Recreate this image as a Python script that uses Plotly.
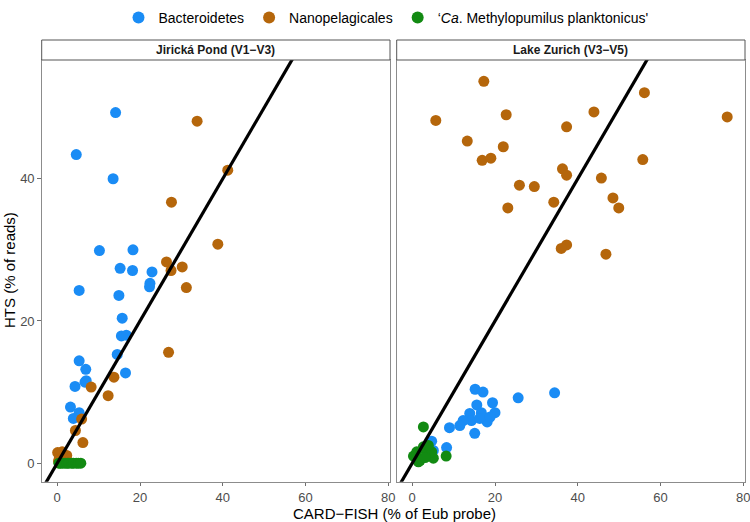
import plotly.graph_objects as go

# ---------------- data ----------------
# Jiricka Pond (V1-V3)
jp_bact_x = [14.1, 4.6, 13.5, 10.2, 18.3, 15.2, 18.2, 22.9, 22.4, 22.3, 5.3, 14.9, 15.7, 15.5, 16.7, 14.5, 16.5, 5.3, 6.9, 7.0, 4.3, 3.2, 5.3, 3.9, 6.7]
jp_bact_y = [49.3, 43.4, 40.0, 29.9, 30.0, 27.4, 27.1, 26.9, 25.3, 24.8, 24.3, 23.6, 20.4, 17.9, 18.0, 15.3, 12.7, 14.4, 13.2, 11.6, 10.8, 7.9, 7.1, 6.3, 11.4]
jp_nano_x = [33.8, 41.2, 27.6, 38.8, 26.4, 27.5, 30.2, 31.2, 26.9, 13.7, 8.2, 12.3, 5.9, 4.4, 6.2, 0.1, 2.3, 0.5, 1.2, 0.3]
jp_nano_y = [48.1, 41.2, 36.7, 30.8, 28.3, 27.1, 27.6, 24.7, 15.6, 12.1, 10.7, 9.5, 6.2, 4.6, 2.9, 1.5, 1.1, 0.6, 1.6, 0.3]
jp_meth_x = [0.4, 0.8, 1.3, 1.9, 2.4, 2.8, 3.5, 3.9, 4.6, 5.1, 5.7]
jp_meth_y = [0.0, 0.0, 0.0, 0.0, 0.0, 0.0, 0.0, 0.0, 0.0, 0.0, 0.0]

# Lake Zurich (V3-V5)
lz_bact_x = [34.4, 25.6, 15.2, 17.1, 15.6, 19.4, 16.7, 20.0, 18.1, 13.9, 14.3, 12.3, 11.5, 9.0, 15.1, 16.3, 18.8, 8.3, 4.7, 5.1]
lz_bact_y = [9.9, 9.2, 10.4, 10.0, 8.2, 8.5, 7.1, 7.1, 5.8, 7.0, 6.0, 6.0, 5.3, 5.0, 4.2, 6.3, 6.5, 2.2, 3.1, 1.8]
lz_nano_x = [17.3, 5.7, 22.7, 56.1, 76.1, 43.9, 37.3, 13.3, 22.0, 16.9, 19.0, 55.7, 36.3, 37.3, 45.7, 25.9, 29.5, 34.2, 48.5, 49.9, 23.1, 37.3, 36.0, 46.8]
lz_nano_y = [53.7, 48.2, 49.0, 52.1, 48.7, 49.4, 47.3, 45.3, 44.5, 42.6, 42.9, 42.7, 41.4, 40.5, 40.1, 39.1, 38.9, 36.7, 37.3, 35.9, 35.9, 30.7, 30.2, 29.4]
lz_meth_x = [2.7, 8.2, 1.1, 0.3, 1.9, 3.5, 5.1, 4.7, 2.7, 3.9, 1.5, 3.1]
lz_meth_y = [5.1, 1.0, 1.6, 1.0, 0.4, 1.8, 0.7, 1.6, 2.3, 2.5, 0.2, 0.8]

# 1:1 reference line
ref_x = [-10, 100]
ref_y = [-10, 100]

panel_titles = ["Jirická Pond (V1−V3)", "Lake Zurich (V3−V5)"]
group_names = ["Bacteroidetes", "Nanopelagicales", "‘<i>Ca</i>. Methylopumilus planktonicus'"]
colors = ["#1a8cf5", "#b5660b", "#128a12"]
x_ticks = [0, 20, 40, 60, 80]
y_ticks = [0, 20, 40]

# ---------------- figure ----------------
fig = go.Figure()

panels = [
    ([jp_bact_x, jp_nano_x, jp_meth_x], [jp_bact_y, jp_nano_y, jp_meth_y], "x", "y"),
    ([lz_bact_x, lz_nano_x, lz_meth_x], [lz_bact_y, lz_nano_y, lz_meth_y], "x2", "y2"),
]
for p, (xs, ys, xa, ya) in enumerate(panels):
    for g in range(3):
        fig.add_trace(go.Scatter(
            x=xs[g], y=ys[g], mode="markers", xaxis=xa, yaxis=ya,
            name=group_names[g], legendgroup=group_names[g], showlegend=(p == 0),
            marker=dict(color=colors[g], size=11, line=dict(width=0)),
            hoverinfo="skip"))
    fig.add_trace(go.Scatter(
        x=ref_x, y=ref_y, mode="lines", xaxis=xa, yaxis=ya, showlegend=False,
        line=dict(color="black", width=3.2), hoverinfo="skip"))

W, H = 750, 522


def px(x):
    return x / W


def py(y):
    return 1 - y / H


left_dom = [px(41.7), px(390)]
right_dom = [px(396.7), px(745)]
y_dom = [py(481.7), py(60)]
xr = [-3.75, 80.4]
yr = [-2.6, 56.7]

axis_common = dict(showgrid=False, zeroline=False, showline=True, linecolor="#8c8c8c",
                   linewidth=1, mirror=True, ticks="outside", ticklen=3.5, tickcolor="#6e6e6e",
                   tickwidth=1, tickfont=dict(size=13, color="#4d4d4d"), automargin=False,
                   ticklabeloverflow="allow")

fig.update_layout(
    template="none",
    width=W, height=H, autosize=False,
    margin=dict(l=0, r=0, t=0, b=0, pad=0),
    plot_bgcolor="white", paper_bgcolor="white",
    font=dict(family="Liberation Sans, Arial, sans-serif", color="black"),
    xaxis=dict(domain=left_dom, range=xr, tickvals=x_ticks, anchor="y", **axis_common),
    xaxis2=dict(domain=right_dom, range=xr, tickvals=x_ticks, anchor="y2", **axis_common),
    yaxis=dict(domain=y_dom, range=yr, tickvals=y_ticks, anchor="x", **axis_common),
    yaxis2=dict(domain=y_dom, range=yr, tickvals=y_ticks, anchor="x2", **{**axis_common, "ticks": ""},
                showticklabels=False),
    legend=dict(orientation="h", x=px(386), xanchor="center", y=py(2), yanchor="top",
                font=dict(size=14, color="black"), itemsizing="constant",
                bgcolor="rgba(0,0,0,0)", tracegroupgap=0),
    showlegend=True,
)

# strips
strip_bot = py(60)
strip_top = py(40)
for dom, title in zip([left_dom, right_dom], panel_titles):
    fig.add_shape(type="rect", xref="paper", yref="paper",
                  x0=dom[0], x1=dom[1], y0=strip_bot, y1=strip_top,
                  line=dict(color="#555555", width=1), fillcolor="white")
    fig.add_annotation(xref="paper", yref="paper", x=(dom[0] + dom[1]) / 2,
                       y=(strip_bot + strip_top) / 2, text="<b>" + title + "</b>",
                       showarrow=False, font=dict(size=12, color="#1a1a1a"),
                       xanchor="center", yanchor="middle")

# axis titles
fig.add_annotation(xref="paper", yref="paper", x=px(394), y=py(513),
                   text="CARD−FISH (% of Eub probe)", showarrow=False,
                   font=dict(size=15, color="black"), xanchor="center", yanchor="middle")
fig.add_annotation(xref="paper", yref="paper", x=px(9), y=py(270),
                   text="HTS (% of reads)", showarrow=False, textangle=-90,
                   font=dict(size=15, color="black"), xanchor="center", yanchor="middle")

fig.write_html("out.html", config={"displayModeBar": False},
               post_script="document.body.style.margin='0px';")
